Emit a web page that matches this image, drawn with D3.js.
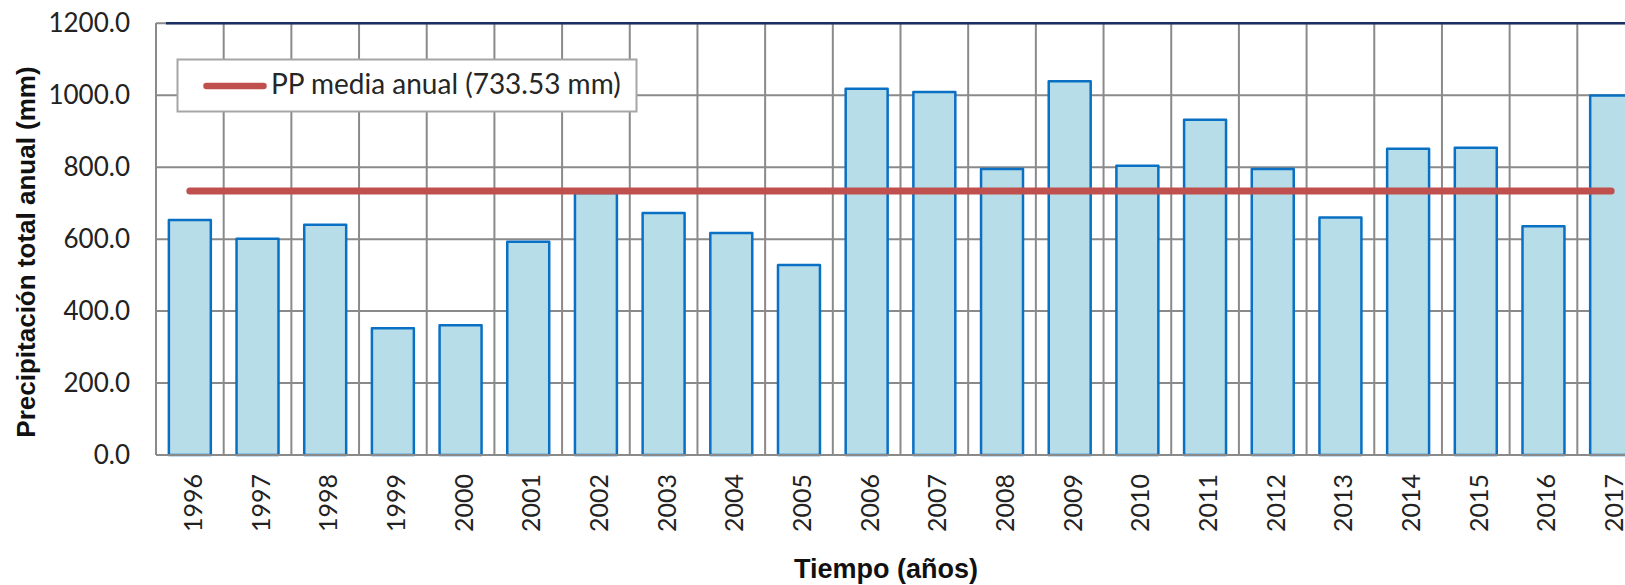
<!DOCTYPE html>
<html>
<head>
<meta charset="utf-8">
<script src="https://cdn.jsdelivr.net/npm/d3@7"></script>
<style>
  html, body { margin: 0; padding: 0; background: #fff; overflow: hidden; }
  svg { display: block; }
</style>
</head>
<body>
<svg id="chart" width="1625" height="585"></svg>
<script>
// Annual total precipitation per year (mm)
const years = ["1996","1997","1998","1999","2000","2001","2002","2003","2004","2005","2006",
               "2007","2008","2009","2010","2011","2012","2013","2014","2015","2016","2017"];
const precipitation = [653, 601, 640, 352, 361, 593, 728, 673, 617, 528, 1018,
                       1009, 795, 1039, 804, 932, 795, 660, 851, 854, 636, 999];
const meanAnnual = [733.53];
const yTicks = [0, 200, 400, 600, 800, 1000, 1200];
const legendLabels = ["PP media anual (733.53 mm)"];
const yTitle = "Precipitación total anual (mm)";
const xTitle = "Tiempo (años)";

const svg = d3.select("#chart");

const plot = { left: 156, right: 1645, top: 23.3, bottom: 455 };
const pad = 0.38;

const x = d3.scaleBand()
  .domain(years)
  .range([plot.left, plot.right])
  .paddingInner(pad)
  .paddingOuter(pad / 2);

const y = d3.scaleLinear()
  .domain([0, 1200])
  .range([plot.bottom, plot.top]);

const gridColor = "#8a8a8a";

// horizontal gridlines
svg.append("g")
  .selectAll("line")
  .data(yTicks)
  .join("line")
  .attr("x1", plot.left)
  .attr("x2", plot.right)
  .attr("y1", d => y(d))
  .attr("y2", d => y(d))
  .attr("stroke", gridColor)
  .attr("stroke-width", 2);

// vertical gridlines at category boundaries
const boundaries = d3.range(years.length + 1).map(i => plot.left + i * x.step());
svg.append("g")
  .selectAll("line")
  .data(boundaries)
  .join("line")
  .attr("x1", d => d)
  .attr("x2", d => d)
  .attr("y1", y(1200))
  .attr("y2", y(0))
  .attr("stroke", gridColor)
  .attr("stroke-width", 2);

// dark top border of the plot area
svg.append("line")
  .attr("x1", plot.left + 10)
  .attr("x2", plot.right)
  .attr("y1", y(1200))
  .attr("y2", y(1200))
  .attr("stroke", "#1b2f66")
  .attr("stroke-width", 2.5);

// bars
svg.append("g")
  .selectAll("rect")
  .data(years.map((yr, i) => ({ yr, v: precipitation[i] })))
  .join("rect")
  .attr("x", d => x(d.yr))
  .attr("width", x.bandwidth())
  .attr("y", d => y(d.v))
  .attr("height", d => y(0) - y(d.v))
  .attr("fill", "#b7dde8")
  .attr("stroke", "#0a70c4")
  .attr("stroke-width", 2.5)
  .attr("stroke-linejoin", "round");

// mean annual line, from first to last category centre
const line = d3.line()
  .x(d => x(d) + x.bandwidth() / 2)
  .y(() => y(meanAnnual[0]));
svg.append("path")
  .datum([years[0], years[years.length - 1]])
  .attr("d", line)
  .attr("fill", "none")
  .attr("stroke", "#c0504d")
  .attr("stroke-width", 7)
  .attr("stroke-linecap", "round");

// axes lines
svg.append("line")
  .attr("x1", plot.left).attr("x2", plot.left)
  .attr("y1", y(1200)).attr("y2", y(0))
  .attr("stroke", gridColor).attr("stroke-width", 2);
svg.append("line")
  .attr("x1", plot.left).attr("x2", plot.right)
  .attr("y1", y(0)).attr("y2", y(0))
  .attr("stroke", gridColor).attr("stroke-width", 2);

// y axis labels
const yAxis = d3.axisLeft(y)
  .tickValues(yTicks)
  .tickFormat(d3.format(".1f"))
  .tickSize(0)
  .tickPadding(26);
const gy = svg.append("g")
  .attr("transform", `translate(${plot.left},0)`)
  .call(yAxis);
gy.select(".domain").remove();
gy.selectAll("text")
  .attr("font-family", "Lato, sans-serif")
  .attr("font-size", 26)
  .attr("fill", "#222");

// x axis labels (rotated)
svg.append("g")
  .selectAll("text")
  .data(years)
  .join("text")
  .attr("transform", d => `translate(${x(d) + x.bandwidth() / 2 + 3},${plot.bottom + 19}) rotate(-90)`)
  .attr("text-anchor", "end")
  .attr("dy", "0.36em")
  .attr("font-family", "Lato, sans-serif")
  .attr("font-size", 25)
  .attr("fill", "#222")
  .text(d => d);

// axis titles
svg.append("text")
  .attr("transform", `translate(35,252) rotate(-90)`)
  .attr("text-anchor", "middle")
  .attr("font-family", "'Liberation Sans', Arial, sans-serif")
  .attr("font-weight", "bold")
  .attr("font-size", 26)
  .attr("fill", "#111")
  .text(yTitle);

svg.append("text")
  .attr("x", 886)
  .attr("y", 578)
  .attr("text-anchor", "middle")
  .attr("font-family", "'Liberation Sans', Arial, sans-serif")
  .attr("font-weight", "bold")
  .attr("font-size", 27)
  .attr("fill", "#111")
  .text(xTitle);

// legend
const legend = svg.append("g");
legend.append("rect")
  .attr("x", 177.5).attr("y", 59.5)
  .attr("width", 459).attr("height", 52)
  .attr("fill", "#fff")
  .attr("stroke", "#a6a6a6")
  .attr("stroke-width", 2);
legend.append("line")
  .attr("x1", 206.5).attr("x2", 263.5)
  .attr("y1", 86).attr("y2", 86)
  .attr("stroke", "#c0504d")
  .attr("stroke-width", 6.5)
  .attr("stroke-linecap", "round");
legend.selectAll("text.lbl")
  .data(legendLabels)
  .join("text")
  .attr("class", "lbl")
  .attr("x", 271)
  .attr("y", 94)
  .attr("font-family", "Lato, sans-serif")
  .attr("font-size", 28)
  .attr("fill", "#262626")
  .text(d => d);
</script>
</body>
</html>
